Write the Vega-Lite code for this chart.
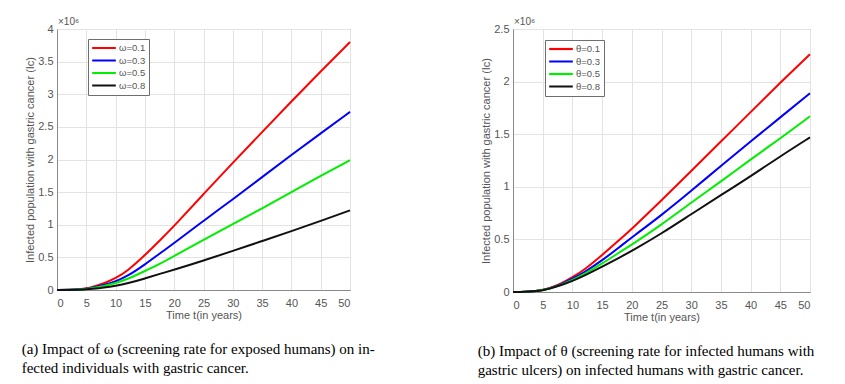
{
  "$schema": "https://vega.github.io/schema/vega-lite/v6.json",
  "background": "white",
  "padding": {"left": 21, "top": 16, "right": 5, "bottom": 5},
  "bounds": "flush",
  "spacing": 163,
  "datasets": {
    "omega": [
      {"t": 0, "v": 0, "s": "ω=0.1"}, {"t": 2, "v": 0.002, "s": "ω=0.1"}, {"t": 4, "v": 0.012, "s": "ω=0.1"}, {"t": 5, "v": 0.025, "s": "ω=0.1"}, {"t": 6, "v": 0.045, "s": "ω=0.1"}, {"t": 8, "v": 0.1, "s": "ω=0.1"}, {"t": 10, "v": 0.18, "s": "ω=0.1"}, {"t": 12, "v": 0.29, "s": "ω=0.1"}, {"t": 15, "v": 0.53, "s": "ω=0.1"}, {"t": 18, "v": 0.8, "s": "ω=0.1"}, {"t": 20, "v": 0.98, "s": "ω=0.1"}, {"t": 25, "v": 1.47, "s": "ω=0.1"}, {"t": 30, "v": 1.95, "s": "ω=0.1"}, {"t": 35, "v": 2.42, "s": "ω=0.1"}, {"t": 40, "v": 2.89, "s": "ω=0.1"}, {"t": 45, "v": 3.35, "s": "ω=0.1"}, {"t": 50, "v": 3.8, "s": "ω=0.1"},
      {"t": 0, "v": 0, "s": "ω=0.3"}, {"t": 2, "v": 0.002, "s": "ω=0.3"}, {"t": 4, "v": 0.01, "s": "ω=0.3"}, {"t": 5, "v": 0.02, "s": "ω=0.3"}, {"t": 6, "v": 0.035, "s": "ω=0.3"}, {"t": 8, "v": 0.075, "s": "ω=0.3"}, {"t": 10, "v": 0.13, "s": "ω=0.3"}, {"t": 12, "v": 0.21, "s": "ω=0.3"}, {"t": 15, "v": 0.39, "s": "ω=0.3"}, {"t": 18, "v": 0.59, "s": "ω=0.3"}, {"t": 20, "v": 0.72, "s": "ω=0.3"}, {"t": 25, "v": 1.06, "s": "ω=0.3"}, {"t": 30, "v": 1.39, "s": "ω=0.3"}, {"t": 35, "v": 1.73, "s": "ω=0.3"}, {"t": 40, "v": 2.07, "s": "ω=0.3"}, {"t": 45, "v": 2.4, "s": "ω=0.3"}, {"t": 50, "v": 2.73, "s": "ω=0.3"},
      {"t": 0, "v": 0, "s": "ω=0.5"}, {"t": 2, "v": 0.002, "s": "ω=0.5"}, {"t": 4, "v": 0.008, "s": "ω=0.5"}, {"t": 5, "v": 0.016, "s": "ω=0.5"}, {"t": 6, "v": 0.028, "s": "ω=0.5"}, {"t": 8, "v": 0.06, "s": "ω=0.5"}, {"t": 10, "v": 0.105, "s": "ω=0.5"}, {"t": 12, "v": 0.165, "s": "ω=0.5"}, {"t": 15, "v": 0.29, "s": "ω=0.5"}, {"t": 18, "v": 0.42, "s": "ω=0.5"}, {"t": 20, "v": 0.52, "s": "ω=0.5"}, {"t": 25, "v": 0.77, "s": "ω=0.5"}, {"t": 30, "v": 1.01, "s": "ω=0.5"}, {"t": 35, "v": 1.25, "s": "ω=0.5"}, {"t": 40, "v": 1.5, "s": "ω=0.5"}, {"t": 45, "v": 1.75, "s": "ω=0.5"}, {"t": 50, "v": 1.99, "s": "ω=0.5"},
      {"t": 0, "v": 0, "s": "ω=0.8"}, {"t": 2, "v": 0.001, "s": "ω=0.8"}, {"t": 4, "v": 0.005, "s": "ω=0.8"}, {"t": 5, "v": 0.01, "s": "ω=0.8"}, {"t": 6, "v": 0.018, "s": "ω=0.8"}, {"t": 8, "v": 0.038, "s": "ω=0.8"}, {"t": 10, "v": 0.065, "s": "ω=0.8"}, {"t": 12, "v": 0.1, "s": "ω=0.8"}, {"t": 15, "v": 0.175, "s": "ω=0.8"}, {"t": 18, "v": 0.26, "s": "ω=0.8"}, {"t": 20, "v": 0.31, "s": "ω=0.8"}, {"t": 25, "v": 0.45, "s": "ω=0.8"}, {"t": 30, "v": 0.6, "s": "ω=0.8"}, {"t": 35, "v": 0.75, "s": "ω=0.8"}, {"t": 40, "v": 0.9, "s": "ω=0.8"}, {"t": 45, "v": 1.06, "s": "ω=0.8"}, {"t": 50, "v": 1.22, "s": "ω=0.8"}
    ],
    "theta": [
      {"t": 0, "v": 0, "s": "θ=0.1"}, {"t": 2, "v": 0.002, "s": "θ=0.1"}, {"t": 4, "v": 0.01, "s": "θ=0.1"}, {"t": 5, "v": 0.02, "s": "θ=0.1"}, {"t": 6, "v": 0.033, "s": "θ=0.1"}, {"t": 8, "v": 0.075, "s": "θ=0.1"}, {"t": 10, "v": 0.14, "s": "θ=0.1"}, {"t": 12, "v": 0.21, "s": "θ=0.1"}, {"t": 15, "v": 0.35, "s": "θ=0.1"}, {"t": 18, "v": 0.5, "s": "θ=0.1"}, {"t": 20, "v": 0.6, "s": "θ=0.1"}, {"t": 25, "v": 0.87, "s": "θ=0.1"}, {"t": 30, "v": 1.15, "s": "θ=0.1"}, {"t": 35, "v": 1.43, "s": "θ=0.1"}, {"t": 40, "v": 1.71, "s": "θ=0.1"}, {"t": 45, "v": 1.99, "s": "θ=0.1"}, {"t": 50, "v": 2.26, "s": "θ=0.1"},
      {"t": 0, "v": 0, "s": "θ=0.3"}, {"t": 2, "v": 0.002, "s": "θ=0.3"}, {"t": 4, "v": 0.01, "s": "θ=0.3"}, {"t": 5, "v": 0.019, "s": "θ=0.3"}, {"t": 6, "v": 0.031, "s": "θ=0.3"}, {"t": 8, "v": 0.07, "s": "θ=0.3"}, {"t": 10, "v": 0.125, "s": "θ=0.3"}, {"t": 12, "v": 0.185, "s": "θ=0.3"}, {"t": 15, "v": 0.3, "s": "θ=0.3"}, {"t": 18, "v": 0.43, "s": "θ=0.3"}, {"t": 20, "v": 0.52, "s": "θ=0.3"}, {"t": 25, "v": 0.73, "s": "θ=0.3"}, {"t": 30, "v": 0.96, "s": "θ=0.3"}, {"t": 35, "v": 1.2, "s": "θ=0.3"}, {"t": 40, "v": 1.43, "s": "θ=0.3"}, {"t": 45, "v": 1.66, "s": "θ=0.3"}, {"t": 50, "v": 1.89, "s": "θ=0.3"},
      {"t": 0, "v": 0, "s": "θ=0.5"}, {"t": 2, "v": 0.002, "s": "θ=0.5"}, {"t": 4, "v": 0.009, "s": "θ=0.5"}, {"t": 5, "v": 0.018, "s": "θ=0.5"}, {"t": 6, "v": 0.03, "s": "θ=0.5"}, {"t": 8, "v": 0.066, "s": "θ=0.5"}, {"t": 10, "v": 0.115, "s": "θ=0.5"}, {"t": 12, "v": 0.17, "s": "θ=0.5"}, {"t": 15, "v": 0.27, "s": "θ=0.5"}, {"t": 18, "v": 0.38, "s": "θ=0.5"}, {"t": 20, "v": 0.45, "s": "θ=0.5"}, {"t": 25, "v": 0.64, "s": "θ=0.5"}, {"t": 30, "v": 0.85, "s": "θ=0.5"}, {"t": 35, "v": 1.05, "s": "θ=0.5"}, {"t": 40, "v": 1.26, "s": "θ=0.5"}, {"t": 45, "v": 1.46, "s": "θ=0.5"}, {"t": 50, "v": 1.67, "s": "θ=0.5"},
      {"t": 0, "v": 0, "s": "θ=0.8"}, {"t": 2, "v": 0.002, "s": "θ=0.8"}, {"t": 4, "v": 0.009, "s": "θ=0.8"}, {"t": 5, "v": 0.017, "s": "θ=0.8"}, {"t": 6, "v": 0.028, "s": "θ=0.8"}, {"t": 8, "v": 0.062, "s": "θ=0.8"}, {"t": 10, "v": 0.105, "s": "θ=0.8"}, {"t": 12, "v": 0.155, "s": "θ=0.8"}, {"t": 15, "v": 0.24, "s": "θ=0.8"}, {"t": 18, "v": 0.33, "s": "θ=0.8"}, {"t": 20, "v": 0.39, "s": "θ=0.8"}, {"t": 25, "v": 0.555, "s": "θ=0.8"}, {"t": 30, "v": 0.74, "s": "θ=0.8"}, {"t": 35, "v": 0.92, "s": "θ=0.8"}, {"t": 40, "v": 1.1, "s": "θ=0.8"}, {"t": 45, "v": 1.29, "s": "θ=0.8"}, {"t": 50, "v": 1.47, "s": "θ=0.8"}
    ]
  },
  "config": {
    "font": "Liberation Sans",
    "view": {"stroke": "#8a8a8a", "strokeWidth": 1},
    "axis": {
      "domainColor": "#8a8a8a",
      "gridColor": "#e3e3e3",
      "ticks": false,
      "labelFont": "Liberation Sans",
      "labelFontSize": 11,
      "labelColor": "#555555",
      "labelOverlap": false,
      "titleFont": "Liberation Sans",
      "titleFontSize": 11,
      "titleFontWeight": "normal",
      "titleColor": "#555555"
    },
    "legend": {
      "orient": "none",
      "fillColor": "white",
      "strokeColor": "#6e6e6e",
      "padding": 3,
      "symbolType": "stroke",
      "symbolSize": 560,
      "symbolStrokeWidth": 2.2,
      "clipHeight": 12,
      "labelFont": "Liberation Sans",
      "labelFontSize": 9.5,
      "labelColor": "#555555",
      "labelOffset": 2,
      "rowPadding": 0.5
    },
    "title": {
      "orient": "bottom",
      "anchor": "start",
      "frame": "bounds",
      "font": "Liberation Serif",
      "fontSize": 15,
      "fontWeight": "normal",
      "color": "black",
      "lineHeight": 19,
      "offset": 22,
      "dx": -3
    }
  },
  "hconcat": [
    {
      "width": 293,
      "height": 261,
      "title": {"text": ["(a)  Impact of ω (screening rate for exposed humans) on in-", "fected individuals with gastric cancer."]},
      "layer": [
        {
          "data": {"name": "omega"},
          "mark": {"type": "line", "strokeWidth": 2, "interpolate": "basis"},
          "encoding": {
            "x": {"field": "t", "type": "quantitative", "scale": {"domain": [0, 50], "nice": false}, "axis": {"values": [0, 5, 10, 15, 20, 25, 30, 35, 40, 45, 50], "title": "Time t(in years)", "labelPadding": 7, "titlePadding": 1}},
            "y": {"field": "v", "type": "quantitative", "scale": {"domain": [0, 4], "nice": false}, "axis": {"values": [0, 0.5, 1, 1.5, 2, 2.5, 3, 3.5, 4], "format": "~g", "title": "Infected population with gastric cancer (Iᴄ)", "labelPadding": 4, "titlePadding": 2}},
            "color": {"field": "s", "type": "nominal", "scale": {"domain": ["ω=0.1", "ω=0.3", "ω=0.5", "ω=0.8"], "range": ["#ff0000", "#0000ff", "#00ee00", "#111111"]}, "legend": {"title": null, "legendX": 31, "legendY": 10}}
          }
        },
        {
          "data": {"values": [{}]},
          "mark": {"type": "text", "text": "×10⁶", "align": "left", "baseline": "bottom", "dx": 1, "dy": -2, "fontSize": 10, "color": "#555555"},
          "encoding": {
            "x": {"datum": 0, "type": "quantitative", "axis": {"values": [0, 5, 10, 15, 20, 25, 30, 35, 40, 45, 50], "title": "Time t(in years)", "labelPadding": 7, "titlePadding": 1}},
            "y": {"datum": 4, "type": "quantitative", "axis": {"values": [0, 0.5, 1, 1.5, 2, 2.5, 3, 3.5, 4], "format": "~g", "title": "Infected population with gastric cancer (Iᴄ)", "labelPadding": 4, "titlePadding": 2}}
          }
        }
      ]
    },
    {
      "width": 297,
      "height": 263,
      "title": {"text": ["(b)  Impact of θ (screening rate for infected humans with", "gastric ulcers) on infected humans with gastric cancer."]},
      "layer": [
        {
          "data": {"name": "theta"},
          "mark": {"type": "line", "strokeWidth": 2, "interpolate": "basis"},
          "encoding": {
            "x": {"field": "t", "type": "quantitative", "scale": {"domain": [0, 50], "nice": false}, "axis": {"values": [0, 5, 10, 15, 20, 25, 30, 35, 40, 45, 50], "title": "Time t(in years)", "labelPadding": 7, "titlePadding": 1}},
            "y": {"field": "v", "type": "quantitative", "scale": {"domain": [0, 2.5], "nice": false}, "axis": {"values": [0, 0.5, 1, 1.5, 2, 2.5], "format": "~g", "title": "Infected population with gastric cancer (Iᴄ)", "labelPadding": 4, "titlePadding": 2}},
            "color": {"field": "s", "type": "nominal", "scale": {"domain": ["θ=0.1", "θ=0.3", "θ=0.5", "θ=0.8"], "range": ["#ff0000", "#0000ff", "#00ee00", "#111111"]}, "legend": {"title": null, "legendX": 32, "legendY": 11}}
          }
        },
        {
          "data": {"values": [{}]},
          "mark": {"type": "text", "text": "×10⁶", "align": "left", "baseline": "bottom", "dx": 1, "dy": -2, "fontSize": 10, "color": "#555555"},
          "encoding": {
            "x": {"datum": 0, "type": "quantitative", "axis": {"values": [0, 5, 10, 15, 20, 25, 30, 35, 40, 45, 50], "title": "Time t(in years)", "labelPadding": 7, "titlePadding": 1}},
            "y": {"datum": 2.5, "type": "quantitative", "axis": {"values": [0, 0.5, 1, 1.5, 2, 2.5], "format": "~g", "title": "Infected population with gastric cancer (Iᴄ)", "labelPadding": 4, "titlePadding": 2}}
          }
        }
      ]
    }
  ],
  "resolve": {"scale": {"color": "independent"}}
}
